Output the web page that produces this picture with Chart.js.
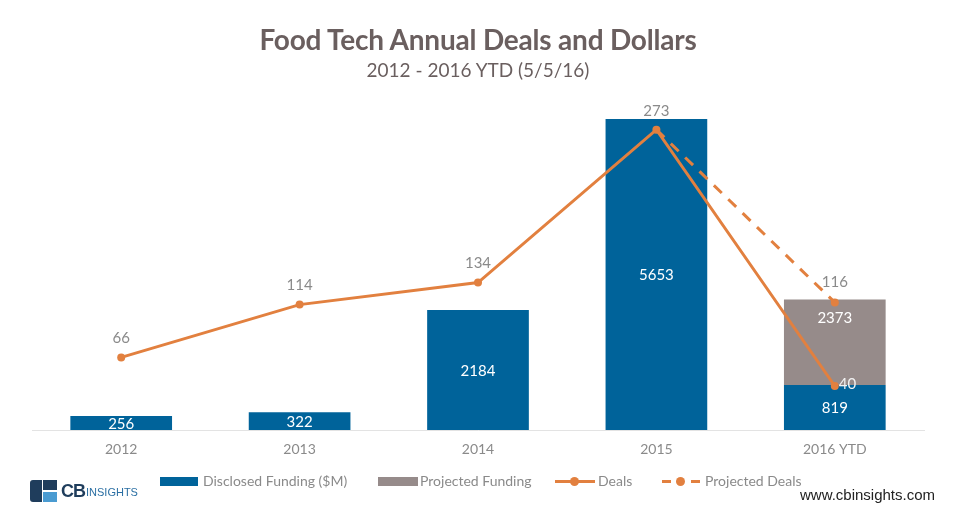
<!DOCTYPE html>
<html><head><meta charset="utf-8">
<script src="https://cdn.jsdelivr.net/npm/chart.js@4.4.1/dist/chart.umd.min.js"></script>
<style>
html,body{margin:0;padding:0;background:#fff;}
#wrap{position:relative;width:956px;height:520px;overflow:hidden;font-family:Lato,"Open Sans",sans-serif;}
#c{position:absolute;left:0;top:0;}
.title{position:absolute;left:0;width:956px;text-align:center;top:22px;font-size:28px;font-weight:bold;color:#6a5f5f;letter-spacing:-0.2px}
.sub{position:absolute;left:0;width:956px;text-align:center;top:58px;font-size:19px;color:#6a5f5f;}
.leg{position:absolute;top:472px;font-size:14px;color:#8a8a8a;white-space:nowrap;}
.box{position:absolute;}
.url{position:absolute;left:800px;top:486px;font-family:"Liberation Sans",Arial,sans-serif;font-size:15px;color:#222;}
.logo{position:absolute;left:30px;top:480px;height:22px;}
</style></head>
<body><div id="wrap">
<canvas id="c" width="956" height="520"></canvas>
<div class="title">Food Tech Annual Deals and Dollars</div>
<div class="sub">2012 - 2016 YTD (5/5/16)</div>
<div class="box" style="left:160px;top:477px;width:38px;height:9px;background:#00639a"></div>
<div class="leg" style="left:203px">Disclosed Funding ($M)</div>
<div class="box" style="left:378px;top:477px;width:40px;height:9px;background:#968b8a"></div>
<div class="leg" style="left:420px">Projected Funding</div>
<div class="box" style="left:555px;top:480px;width:40px;height:3px;background:#e2803f"></div>
<div class="box" style="left:570px;top:477px;width:9px;height:9px;border-radius:50%;background:#e2803f"></div>
<div class="leg" style="left:598px">Deals</div>
<div class="box" style="left:662px;top:480px;width:9px;height:3px;background:#e2803f"></div>
<div class="box" style="left:691px;top:480px;width:9px;height:3px;background:#e2803f"></div>
<div class="box" style="left:676px;top:477px;width:9px;height:9px;border-radius:50%;background:#e2803f"></div>
<div class="leg" style="left:705px">Projected Deals</div>
<div class="logo">
  <div style="position:absolute;left:0;top:0;width:12px;height:22px;background:#1f3d5c;border-radius:3px 0 0 3px"></div>
  <div style="position:absolute;left:13px;top:0;width:14px;height:10px;background:#1f3d5c"></div>
  <div style="position:absolute;left:13px;top:12px;width:14px;height:10px;background:#4a9bd1"></div>
  <div style="position:absolute;left:31px;top:1px;font-family:'Liberation Sans',Arial,sans-serif;font-weight:bold;font-size:18px;color:#1f3d5c;letter-spacing:-1px">CB</div>
  <div style="position:absolute;left:56px;top:6px;font-family:'Liberation Sans',Arial,sans-serif;font-size:11px;color:#2b6fa3">INSIGHTS</div>
</div>
<div class="url">www.cbinsights.com</div>
</div>
<script>
const categories = ["2012","2013","2014","2015","2016 YTD"];
const disclosedFunding = [256, 322, 2184, 5653, 819];
const projectedFundingTotal = [null, null, null, null, 2373];
const deals = [66, 114, 134, 273, 40];
const projectedDeals = [null, null, null, 273, 116];
const projectedDealLabels = [null, null, null, null, 116];

const projectedSegment = projectedFundingTotal.map((v,i)=> v==null ? null : v - disclosedFunding[i]);

const BLUE="#00639a", GRAY="#968b8a", ORANGE="#e2803f";

const labelPlugin = {
  id:'labels',
  afterDatasetsDraw(chart){
    const ctx = chart.ctx;
    ctx.save();
    ctx.font = "15px Lato, 'Open Sans', sans-serif";
    ctx.textAlign = "center";
    ctx.textBaseline = "middle";
    chart.getDatasetMeta(2).data.forEach((el,i)=>{
      const v = disclosedFunding[i]; if(v==null) return;
      ctx.fillStyle = "#ffffff";
      ctx.fillText(String(v), el.x, (el.y + el.base)/2 + 1);
    });
    chart.getDatasetMeta(3).data.forEach((el,i)=>{
      const v = projectedFundingTotal[i]; if(v==null) return;
      ctx.fillStyle = "#ffffff";
      ctx.fillText(String(v), el.x, el.y + 19);
    });
    ctx.fillStyle = "#8a8a8a";
    chart.getDatasetMeta(0).data.forEach((el,i)=>{
      const v = deals[i];
      if(i===4){ ctx.fillStyle="#f2f2f2"; ctx.textAlign="left"; ctx.fillText(String(v), el.x+4, el.y-2); ctx.textAlign="center"; ctx.fillStyle="#8a8a8a"; return; }
      ctx.fillText(String(v), el.x, el.y - 19);
    });
    chart.getDatasetMeta(1).data.forEach((el,i)=>{
      const v = projectedDealLabels[i]; if(v==null) return;
      ctx.fillText(String(v), el.x, el.y - 20);
    });
    ctx.restore();
  }
};

new Chart(document.getElementById('c'), {
  data:{
    labels: categories,
    datasets:[
      {type:'line', label:'Deals', data:deals, yAxisID:'yd', borderColor:ORANGE, backgroundColor:ORANGE, borderWidth:3, pointRadius:4, pointBackgroundColor:ORANGE, pointBorderWidth:0, tension:0, order:0},
      {type:'line', label:'Projected Deals', data:projectedDeals, yAxisID:'yd', borderColor:ORANGE, backgroundColor:ORANGE, borderWidth:3, borderDash:[11,9], pointRadius:[0,0,0,0,4], pointBackgroundColor:ORANGE, pointBorderWidth:0, tension:0, order:1},
      {type:'bar', label:'Disclosed Funding ($M)', data:disclosedFunding, yAxisID:'y', backgroundColor:BLUE, stack:'f', barPercentage:0.57, categoryPercentage:1, order:2},
      {type:'bar', label:'Projected Funding', data:projectedSegment, yAxisID:'y', backgroundColor:GRAY, stack:'f', barPercentage:0.57, categoryPercentage:1, order:3}
    ]
  },
  options:{
    responsive:false, animation:false, devicePixelRatio:1,
    layout:{padding:{left:32,right:32,top:100,bottom:60}},
    plugins:{legend:{display:false}, tooltip:{enabled:false}},
    scales:{
      x:{stacked:true, grid:{display:false, drawTicks:false}, border:{color:'#e3e3e3', width:1},
         ticks:{color:'#8a8a8a', font:{family:"Lato, 'Open Sans', sans-serif", size:14}, padding:11},
         afterFit(s){ s.height = 30; }},
      y:{stacked:true, display:false, min:0, max:6000},
      yd:{display:false, min:0, max:300}
    }
  },
  plugins:[labelPlugin]
});
</script>
</body></html>
